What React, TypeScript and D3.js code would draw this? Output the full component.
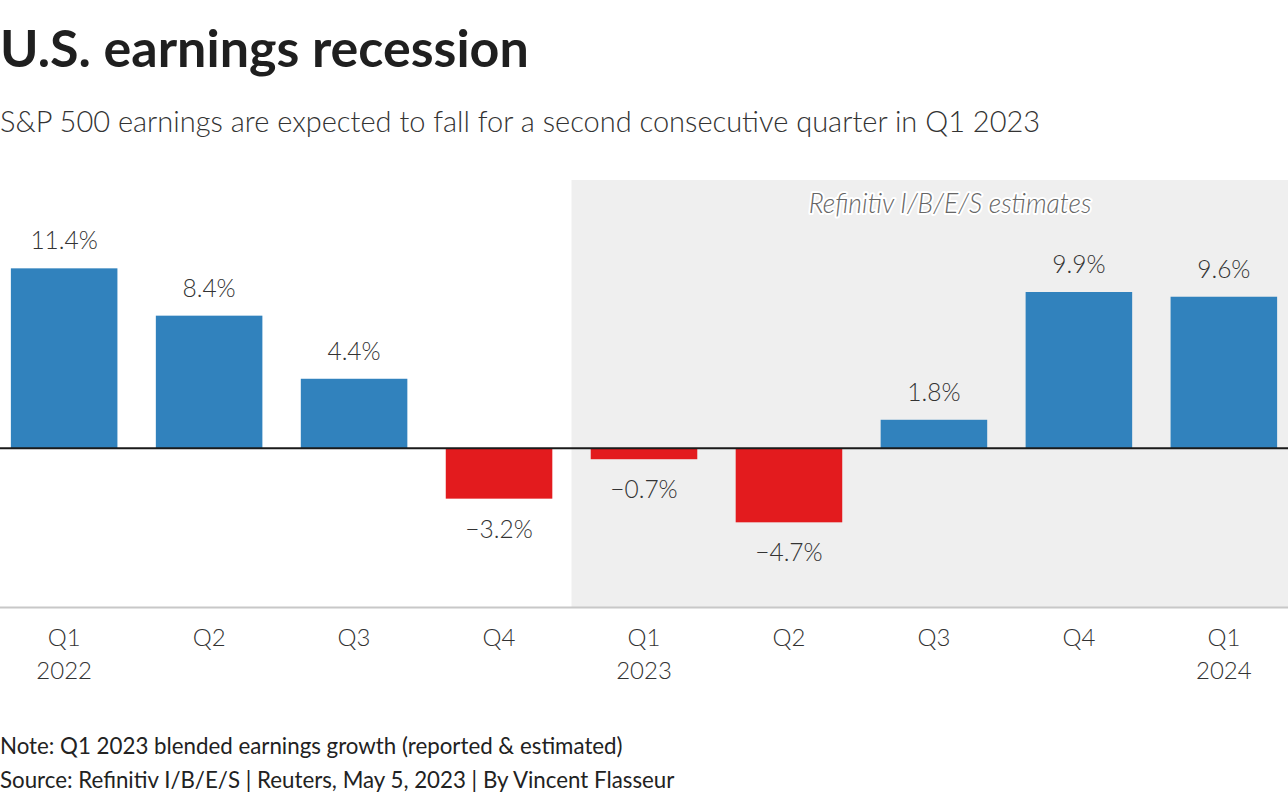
import React from "react";
import * as d3 from "d3";

const quarters = ["Q1", "Q2", "Q3", "Q4", "Q1", "Q2", "Q3", "Q4", "Q1"];
const years = ["2022", "", "", "", "2023", "", "", "", "2024"];
const growth = [11.4, 8.4, 4.4, -3.2, -0.7, -4.7, 1.8, 9.9, 9.6];
const estimateStart = 4;

const W = 1288;
const H = 800;
const FONT = "Lato, 'Source Sans Pro', sans-serif";

export default function App() {
  const ids = quarters.map((_, i) => String(i));
  const x = d3.scaleBand<string>().domain(ids).range([0, W]).paddingInner(0.265).paddingOuter(0.075);
  const y = d3.scaleLinear().domain([-10.1, 17]).range([607.5, 180]);
  const step = x.step();
  const gap = step - x.bandwidth();
  const shadeX = (x(String(estimateStart)) as number) - gap / 2;
  const fmt = (v: number) => (v < 0 ? "\u2212" + Math.abs(v).toFixed(1) : v.toFixed(1)) + "%";

  return (
    <div style={{ position: "absolute", left: 0, top: 0 }}>
      <svg width={W} height={H} style={{ display: "block", fontFamily: FONT }}>
        <rect width={W} height={H} fill="#fff" />
        <text x={0} y={67} fontSize={52} fontWeight={700} fill="#1f1f1f">U.S. earnings recession</text>
        <text x={0} y={132} fontSize={29} fontWeight={300} fill="#333">
          S&amp;P 500 earnings are expected to fall for a second consecutive quarter in Q1 2023
        </text>
        <rect x={shadeX} y={y(17)} width={W - shadeX} height={y(-10.1) - y(17)} fill="#efefef" />
        <text
          x={950}
          y={213}
          textAnchor="middle"
          fontSize={26.5}
          fontStyle="italic"
          fontWeight={300}
          fill="#666"
          stroke="#fff"
          strokeWidth={4}
          paintOrder="stroke"
          strokeLinejoin="round"
        >
          Refinitiv I/B/E/S estimates
        </text>
        {growth.map((v, i) => {
          const bx = x(String(i)) as number;
          const top = y(Math.max(0, v));
          const bot = y(Math.min(0, v));
          return (
            <g key={i}>
              <rect x={bx} y={top} width={x.bandwidth()} height={bot - top} fill={v >= 0 ? "#3182bd" : "#e31b1e"} />
              <text
                x={bx + x.bandwidth() / 2}
                y={v >= 0 ? top - 19 : bot + 39}
                textAnchor="middle"
                fontSize={24.5}
                fontWeight={300}
                fill="#333"
              >
                {fmt(v)}
              </text>
            </g>
          );
        })}
        <line x1={0} x2={W} y1={y(0)} y2={y(0)} stroke="#1a1a1a" strokeWidth={2} />
        <line x1={0} x2={W} y1={y(-10.1)} y2={y(-10.1)} stroke="#c8c8c8" strokeWidth={2} />
        {quarters.map((q, i) => {
          const cx = (x(String(i)) as number) + x.bandwidth() / 2;
          return (
            <g key={"t" + i}>
              <text x={cx} y={646} textAnchor="middle" fontSize={24} fontWeight={300} fill="#333">{q}</text>
              {years[i] && (
                <text x={cx} y={679} textAnchor="middle" fontSize={24} fontWeight={300} fill="#333">{years[i]}</text>
              )}
            </g>
          );
        })}
        <text x={0} y={754} fontSize={22.3} fill="#222">Note: Q1 2023 blended earnings growth (reported &amp; estimated)</text>
        <text x={0} y={788} fontSize={22.3} fill="#222">Source: Refinitiv I/B/E/S | Reuters, May 5, 2023 | By Vincent Flasseur</text>
      </svg>
    </div>
  );
}
